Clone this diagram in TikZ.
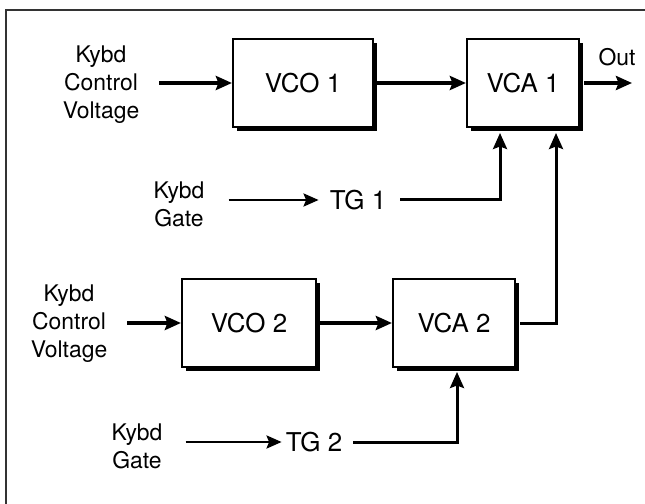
\documentclass[tikz,border=0pt]{standalone}
\usepackage{fontspec}
\setmainfont{TeX Gyre Heros}
\usepackage{tikz}
\usetikzlibrary{arrows.meta,positioning,shadows}
\newcommand{\sbFigBox}{\fontsize{26}{30}\selectfont}
\newcommand{\sbFigLbl}{\fontsize{23}{28}\selectfont}
\tikzset{
  %% module boxes: white, black rule, solid black drop shadow to the
  %% lower right; the width is the argument
  sbblock/.style={
    draw=black, line width=2.2bp, fill=white, inner sep=0pt,
    minimum width=#1, minimum height=88bp, font=\sbFigBox,
    drop shadow={shadow xshift=4bp, shadow yshift=-4bp,
      fill=black, opacity=1}},
  %% plain text: inputs and the trigger generators
  sblbl/.style={inner sep=0pt, align=center, font=\sbFigLbl},
  sbtg/.style={inner sep=0pt, font=\sbFigBox},
  %% audio / pitch path: heavy
  sbflow/.style={-{Stealth[length=16bp,width=14bp,inset=2.5bp]},
    draw=black, line width=3.6bp},
  %% gate and control wiring: lighter
  sbgate/.style={-{Stealth[length=15bp,width=13bp,inset=2.5bp]},
    draw=black, line width=2.7bp},
  sbwire/.style={-{Stealth[length=16bp,width=14bp,inset=2.5bp]},
    draw=black, line width=3bp},
}

\begin{document}
\begin{tikzpicture}[x=1bp,y=-1bp]
\useasboundingbox (0,0) rectangle (645,504);

%% frame (only top and left edges show)
\draw[black!80, line width=1.6bp] (645,10) -- (6,10) -- (6,504);

%% --- voice 1 ------------------------------------------------------
\node[sbblock=140bp] (vco1) at (303,83) {VCO 1};
\node[sbblock=112bp] (vca1) at (523,83) {VCA 1};
\node[sblbl] (cv1) at (101,85) {Kybd\\Control\\Voltage};
\node[sblbl] (gate1) at (179,204) {Kybd\\Gate};
\node[sbtg] (tg1) at (358,200) {TG 1};
\node[sblbl] (out) at (617,57) {Out};

\coordinate (outend) at (632,83);
\coordinate (in1) at (500,133);
\coordinate (in2) at (556,133);

\draw[sbflow, shorten <=20bp] (cv1.east |- vco1) -- (vco1.west);
\draw[sbflow, shorten <=3bp] (vco1.east) -- (vca1.west);
\draw[sbflow, shorten <=4bp] (vca1.east) -- (outend);
\draw[sbgate, shorten <=24bp, shorten >=11bp] (gate1.east |- tg1) -- (tg1.west);
\draw[sbwire, shorten <=14bp] (tg1.east) -| (in1);

%% --- voice 2 ------------------------------------------------------
\node[sbblock=134bp] (vco2) at (249,323) {VCO 2};
\node[sbblock=122bp] (vca2) at (454,323) {VCA 2};
\node[sblbl] (cv2) at (69,324) {Kybd\\Control\\Voltage};
\node[sblbl] (gate2) at (137,446) {Kybd\\Gate};
\node[sbtg] (tg2) at (314,442) {TG 2};

\coordinate (in3) at (457,372);

\draw[sbflow, shorten <=20bp] (cv2.east |- vco2) -- (vco2.west);
\draw[sbflow, shorten <=3bp] (vco2.east) -- (vca2.west);
\draw[sbgate, shorten <=23bp, shorten >=4bp] (gate2.east |- tg2) -- (tg2.west);
\draw[sbwire, shorten <=11bp] (tg2.east) -| (in3);

%% VCA 2 joins VCA 1 from below
\draw[sbwire, shorten <=4bp] (vca2.east) -| (in2);

\end{tikzpicture}
\end{document}
